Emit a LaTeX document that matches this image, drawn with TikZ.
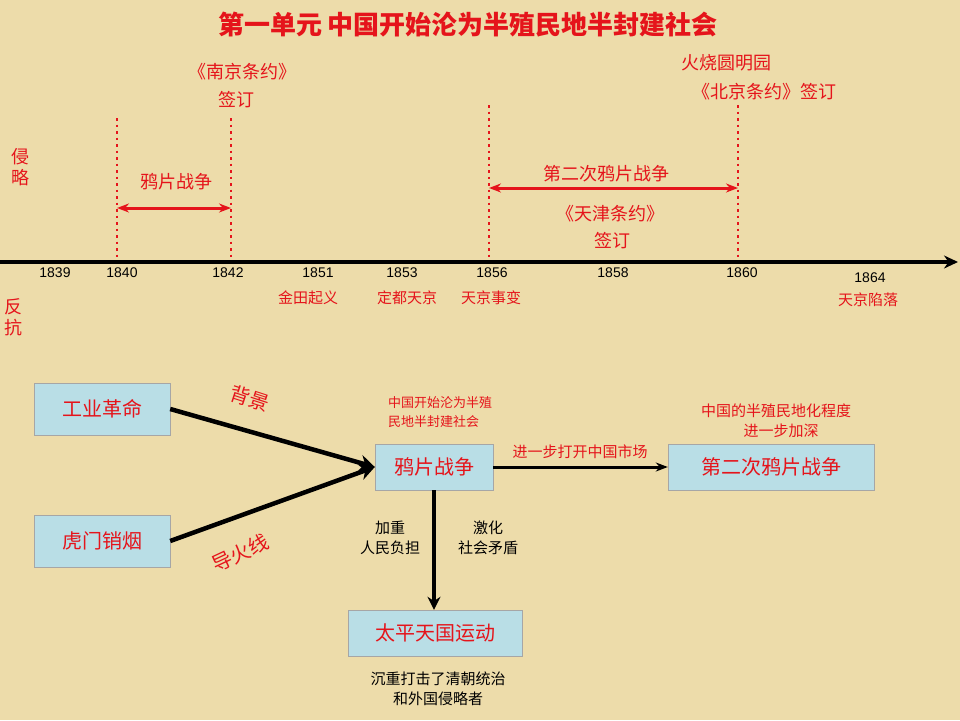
\documentclass[tikz,border=0pt]{standalone}
\usepackage{fontspec}
\setmainfont{Liberation Sans}
\newfontfamily\cjk{Noto Sans CJK SC}
\usetikzlibrary{arrows.meta}
\definecolor{bgtan}{HTML}{EDDCAA}
\definecolor{boxblue}{HTML}{B9DEE6}
\definecolor{hred}{HTML}{E5141B}
\tikzset{
  evt/.style={font=\cjk\fontsize{18}{21}\selectfont,text=hred},
  yr/.style={font=\fontsize{14}{16}\selectfont},
  note/.style={font=\cjk\fontsize{15}{20}\selectfont,align=left},
  box/.style={draw=gray!70,fill=boxblue,minimum height=50pt,font=\cjk\fontsize{20}{23}\selectfont,text=hred},
  yearline/.style={draw=hred,line width=2.5pt,dash pattern=on 2.5pt off 4pt},
  flow/.style={line width=4.5pt,-{Stealth[length=15pt,width=16pt]}},
}
\begin{document}
\begin{tikzpicture}[x=1pt,y=-1pt]
\fill[bgtan] (0,0) rectangle (960,720);
\useasboundingbox (0,0) rectangle (960,720);
\node[font=\cjk\bfseries\fontsize{26}{29}\selectfont,text=hred] (title) at (468,25) {第一单元\ 中国开始沦为半殖民地半封建社会};

% timeline
\coordinate (t0) at (0,262);
\coordinate (t1) at (958,262);
\draw[line width=3.5pt,-{Stealth[length=14pt,width=13pt]}] (t0) -- (t1);
\foreach \x/\y in {55/1839,122/1840,228/1842,318/1851,402/1853,492/1856,613/1858,742/1860}
  \node[yr] (y\y) at (\x,273) {\y};
\node[yr] (y1864) at (870,278) {1864};

\foreach \x/\top [count=\i] in {117/118,231/118,489/105,738/105}{
  \coordinate (m\i a) at (\x,\top);
  \coordinate (m\i b) at (\x,258);
  \draw[yearline] (m\i a) -- (m\i b);
}
\draw[hred,line width=3pt,{Stealth[length=12pt]}-{Stealth[length=12pt]}] (117,208) coordinate (w1a) -- (231,208) coordinate (w1b);
\draw[hred,line width=3pt,{Stealth[length=12pt]}-{Stealth[length=12pt]}] (489,188) coordinate (w2a) -- (738,188) coordinate (w2b);

\node[evt] (war1) at (176,182) {鸦片战争};
\node[evt] (war2) at (606,174) {第二次鸦片战争};
\node[evt] (tj) at (610,214) {《天津条约》};
\node[evt] (tjs) at (612,241) {签订};
\node[evt] (nj) at (242,72) {《南京条约》};
\node[evt] (njs) at (236,100) {签订};
\node[evt] (ymy) at (726,63) {火烧圆明园};
\node[evt] (bj) at (764,92) {《北京条约》签订};
\node[evt,align=center] (qin) at (20,167) {侵\\略};
\node[evt,align=center] (fan) at (14,317) {反\\抗};
\node[evt,font=\cjk\fontsize{15}{17}\selectfont] (jt) at (308,298) {金田起义};
\node[evt,font=\cjk\fontsize{15}{17}\selectfont] (dd) at (407,298) {定都天京};
\node[evt,font=\cjk\fontsize{15}{17}\selectfont] (tjsb) at (491,298) {天京事变};
\node[evt,font=\cjk\fontsize{15}{17}\selectfont] (tjxl) at (868,300) {天京陷落};

% lower flow
\node[box,minimum width=136pt,minimum height=52pt] (gy) at (102,409) {工业革命};
\node[box,minimum width=136pt,minimum height=52pt] (hm) at (102,541) {虎门销烟};
\node[box,minimum width=118pt,minimum height=46pt] (yp) at (434,467) {鸦片战争};
\node[box,minimum width=206pt,minimum height=46pt] (er) at (771,467) {第二次鸦片战争};
\node[box,minimum width=174pt,minimum height=46pt] (tp) at (435,633) {太平天国运动};

\draw[flow] (gy.east) -- (yp.west);
\draw[flow] (hm.east) -- (yp.west);
\draw[line width=3pt,-{Stealth[length=12pt]}] (yp.east) -- (er.west);
\draw[line width=3.5pt,-{Stealth[length=13pt,width=13pt]}] (yp.south) -- (yp.south |- tp.north);

\node[evt,font=\cjk\fontsize{20}{23}\selectfont,rotate=-18] (bg) at (250,398) {背景};
\node[evt,font=\cjk\fontsize{20}{23}\selectfont,rotate=25] (dhx) at (240,553) {导火线};
\node[evt,font=\cjk\fontsize{15}{17}\selectfont] (kf) at (580,452) {进一步打开中国市场};
\node[note,text=hred,font=\cjk\fontsize{13}{19}\selectfont] (bzj) at (440,412) {中国开始沦为半殖\\民地半封建社会};
\node[note,text=hred,align=center] (jsh) at (776,421) {中国的半殖民地化程度\\\ \ \ 进一步加深\hspace{4em}};
\node[note,align=center] (jz) at (390,538) {加重\\人民负担};
\node[note,align=center] (jh) at (488,538) {激化\\社会矛盾};
\node[note,align=center] (cz) at (438,689) {沉重打击了清朝统治\\和外国侵略者\hspace{2em}};
\end{tikzpicture}
\end{document}
